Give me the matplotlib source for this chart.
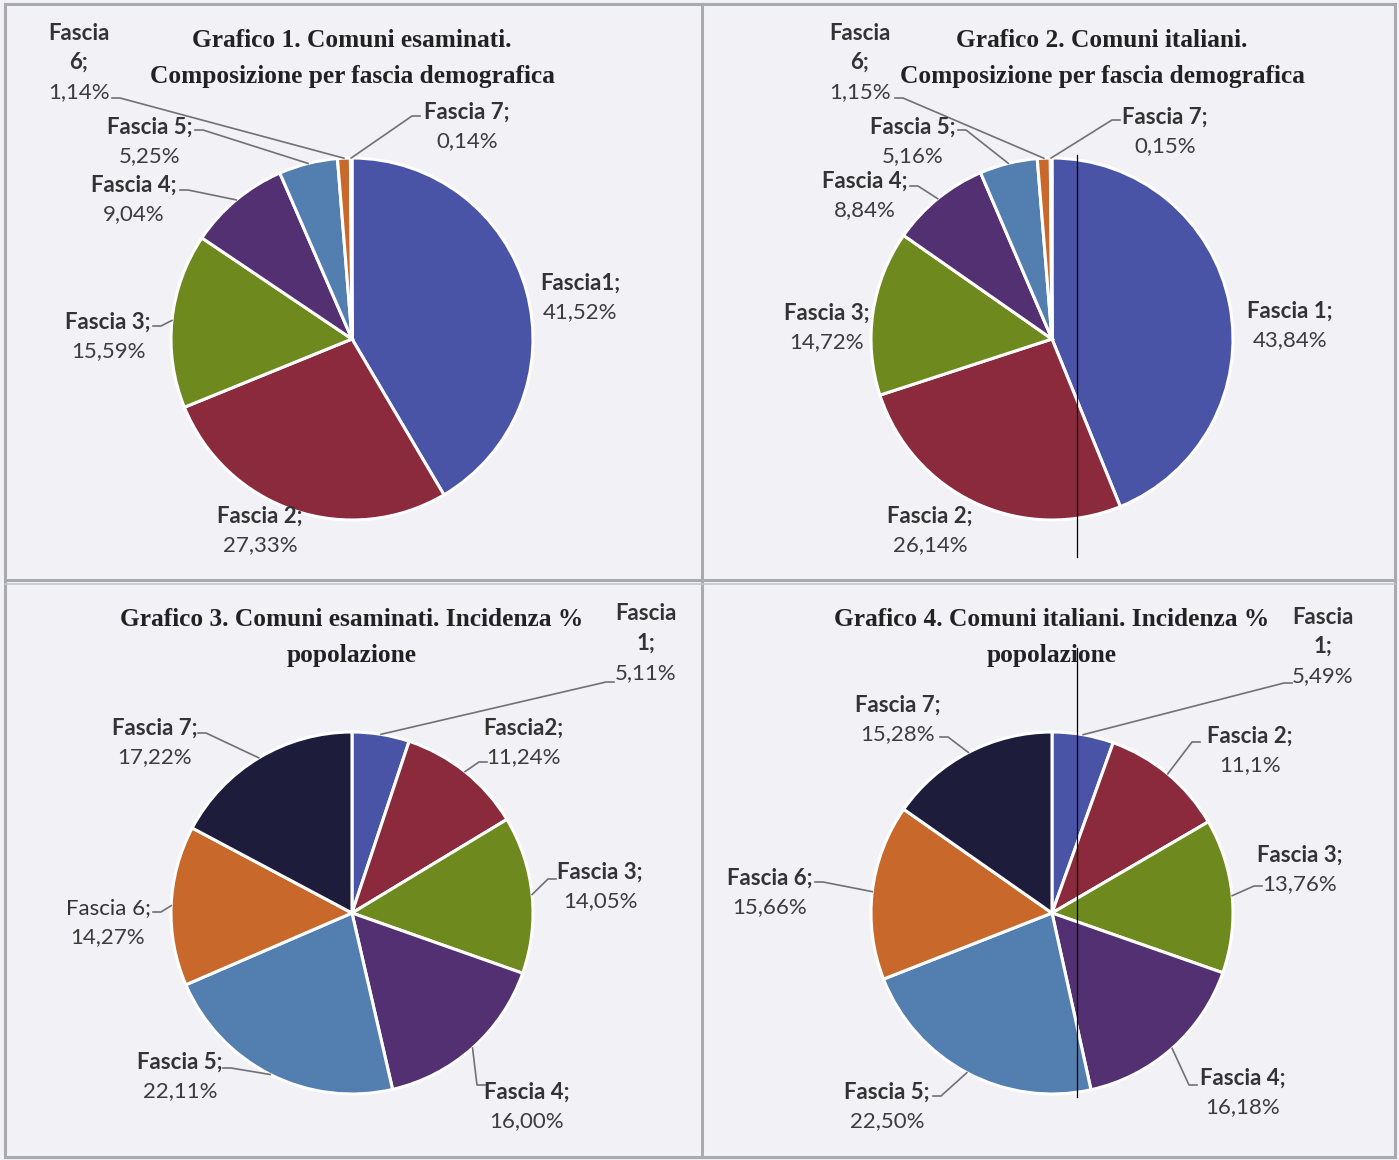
import matplotlib.pyplot as plt
import numpy as np

# data
fasce = ["Fascia 1", "Fascia 2", "Fascia 3", "Fascia 4", "Fascia 5", "Fascia 6", "Fascia 7"]
comp_esaminati = [41.52, 27.33, 15.59, 9.04, 5.25, 1.14, 0.14]
comp_italiani = [43.84, 26.14, 14.72, 8.84, 5.16, 1.15, 0.15]
pop_esaminati = [5.11, 11.24, 14.05, 16.00, 22.11, 14.27, 17.22]
pop_italiani = [5.49, 11.1, 13.76, 16.18, 22.50, 15.66, 15.28]
val_text_1 = ["41,52%", "27,33%", "15,59%", "9,04%", "5,25%", "1,14%", "0,14%"]
val_text_2 = ["43,84%", "26,14%", "14,72%", "8,84%", "5,16%", "1,15%", "0,15%"]
val_text_3 = ["5,11%", "11,24%", "14,05%", "16,00%", "22,11%", "14,27%", "17,22%"]
val_text_4 = ["5,49%", "11,1%", "13,76%", "16,18%", "22,50%", "15,66%", "15,28%"]
name_text_1 = ["Fascia1;", "Fascia 2;", "Fascia 3;", "Fascia 4;", "Fascia 5;", "Fascia\n6;", "Fascia 7;"]
name_text_2 = ["Fascia 1;", "Fascia 2;", "Fascia 3;", "Fascia 4;", "Fascia 5;", "Fascia\n6;", "Fascia 7;"]
name_text_3 = ["Fascia\n1;", "Fascia2;", "Fascia 3;", "Fascia 4;", "Fascia 5;", "Fascia 6;", "Fascia 7;"]
name_text_4 = ["Fascia\n1;", "Fascia 2;", "Fascia 3;", "Fascia 4;", "Fascia 5;", "Fascia 6;", "Fascia 7;"]
titles = ["Grafico 1. Comuni esaminati.\nComposizione per fascia demografica",
          "Grafico 2. Comuni italiani.\nComposizione per fascia demografica",
          "Grafico 3. Comuni esaminati. Incidenza %\npopolazione",
          "Grafico 4. Comuni italiani. Incidenza %\npopolazione"]

colors = ["#4a54a6", "#8a2a3c", "#6e8a1f", "#523071", "#527eb0", "#c8682b", "#1d1c3b"]

W, H = 1399, 1160
fig = plt.figure(figsize=(W / 100, H / 100), dpi=100)
fig.patch.set_facecolor("#f1f1f6")
ax = fig.add_axes([0, 0, 1, 1])

def Y(y):
    return H - y

# panel frames
for x in [5, 702, 1395]:
    ax.plot([x, x], [Y(4), Y(1157)], color="#a9a9b1", lw=2.2)
for y in [4, 580, 1157]:
    ax.plot([5, 1395], [Y(y), Y(y)], color="#a9a9b1", lw=2.2)
ax.plot([5, 1395], [Y(584), Y(584)], color="#c4c4cb", lw=1.2)

font_lab = "Lato"
font_title = "Liberation Serif"
line_h = 29.5

# panel layout: centre, radius, title pos, label positions (x, y of first line), leader anchor
panels = [
    dict(vals=comp_esaminati, names=name_text_1, texts=val_text_1, c=(352, 339), r=181,
         title=(352, 58.5),
         lab=[(580, 283), (260, 516), (108, 322), (134, 185), (150, 127), (79, 33), (467, 112)],
         anchor=[None, None, (153, 326), (180, 190), (195, 130), (112, 98), (420, 116)],
         bold=[True] * 7),
    dict(vals=comp_italiani, names=name_text_2, texts=val_text_2, c=(1052, 339), r=181,
         title=(1102, 58.5),
         lab=[(1290, 311), (930, 516), (827, 313), (865, 181), (913, 127), (860, 33), (1165, 117)],
         anchor=[None, None, None, (910, 186), (958, 130), (895, 98), (1120, 120)],
         bold=[True] * 7),
    dict(vals=pop_esaminati, names=name_text_3, texts=val_text_3, c=(352, 913), r=181,
         title=(352, 637.5),
         lab=[(646, 614), (523, 728), (600, 872), (527, 1092), (180, 1062), (108, 908), (155, 728)],
         anchor=[(614, 682), (487, 762), (556, 879), (485, 1085), (223, 1068), (153, 912), (198, 733)],
         bold=[True, True, True, True, True, False, True]),
    dict(vals=pop_italiani, names=name_text_4, texts=val_text_4, c=(1052, 913), r=181,
         title=(1052, 637.5),
         lab=[(1323, 617), (1250, 736), (1300, 855), (1243, 1078), (887, 1092), (770, 878), (898, 705)],
         anchor=[(1292, 683), (1200, 742), (1262, 886), (1197, 1085), (933, 1096), (815, 882), (940, 737)],
         bold=[True] * 7),
]

for k, p in enumerate(panels):
    cx, cy = p["c"]
    r = p["r"]
    wedges, _ = ax.pie(p["vals"], colors=colors, startangle=90, counterclock=False,
                       center=(cx, Y(cy)), radius=r,
                       wedgeprops=dict(edgecolor="white", linewidth=2.2))
    ax.text(p["title"][0], Y(p["title"][1]), titles[k],
            ha="center", va="center", fontsize=18.3, fontweight="bold", family=font_title,
            color="#222222", linespacing=1.7)
    for i, w in enumerate(wedges):
        lx, ly = p["lab"][i]
        lines = p["names"][i].split("\n")
        for j, s in enumerate(lines):
            ax.text(lx, Y(ly + line_h * j), s, ha="center", va="center", fontsize=16,
                    fontweight="bold" if p["bold"][i] else "normal", family=font_lab,
                    color="#333333")
        ax.text(lx, Y(ly + line_h * len(lines)), p["texts"][i], ha="center", va="center",
                fontsize=16, family=font_lab, color="#3c3c3c")
        if p["anchor"][i] is not None:
            mid = np.deg2rad((w.theta1 + w.theta2) / 2)
            ex = cx + r * np.cos(mid)
            ey = Y(cy) + r * np.sin(mid)
            ax2, ay2 = p["anchor"][i]
            step = 8 if ax2 < ex else -8
            ax.plot([ax2, ax2 + step, ex], [Y(ay2), Y(ay2), ey], color="#707076", lw=1.2)

# scan artefact: thin vertical line through charts 2 and 4
ax.plot([1077, 1077], [Y(155), Y(557)], color="black", lw=0.9)
ax.plot([1077, 1077], [Y(648), Y(1097)], color="black", lw=0.9)

ax.set_xlim(0, W)
ax.set_ylim(0, H)
ax.set_aspect("equal")
ax.axis("off")

fig.savefig("out.png", dpi=100, facecolor=fig.get_facecolor())
